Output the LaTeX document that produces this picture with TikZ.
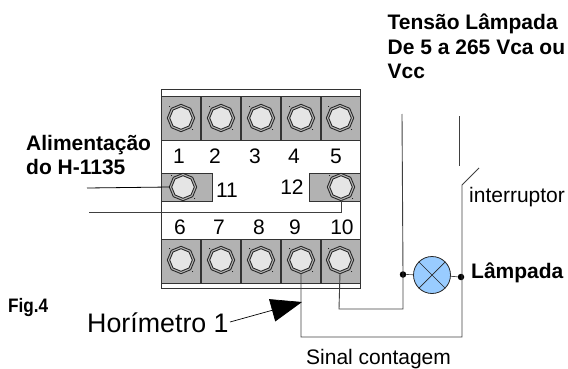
\documentclass[tikz,border=0pt]{standalone}
\usepackage{fontspec}
\setmainfont{Liberation Sans}
\usetikzlibrary{shapes.geometric,shapes.misc,arrows.meta}
\definecolor{blockgray}{HTML}{B2B2B2}
\definecolor{lampblue}{HTML}{99CCFF}
\tikzset{
	block/.style={draw=black!80,fill=blockgray,line width=.8pt},
	screw/.style={regular polygon,regular polygon sides=8,regular polygon rotate=22.5,minimum size=25pt,inner sep=0pt,draw=black!85,double=black!30,double distance=1.1pt,line width=1pt,fill=black!10},
	wire/.style={draw=black!75,line width=.9pt},
	num/.style={font=\fontsize{21}{23}\selectfont,inner sep=0pt,anchor=base},
	lbl/.style={font=\fontsize{21}{23}\selectfont,inner sep=0pt,anchor=base west},
	lblb/.style={font=\fontsize{21}{24.5}\selectfont\bfseries,inner sep=0pt,anchor=north west,align=left},
	junction/.style={circle,fill=black,inner sep=0pt,minimum size=6.5pt}
}
\begin{document}
\begin{tikzpicture}[x=1pt,y=-1pt]
	\useasboundingbox (0,0) rectangle (568,369);

	\draw [black!80,line width=.8pt] (161,89) rectangle (360,288);

	% terminal blocks
	\foreach \i/\x in {1/161,2/201,3/241,4/281,5/321}
		\draw [block] (\x,96) rectangle +(39.6,44);
	\foreach \i/\x in {6/161,7/201,8/241,9/281,10/321}
		\draw [block] (\x,239) rectangle +(39.6,44);
	\draw [block] (161,173) rectangle (212,201);
	\draw [block] (309,173) rectangle (360,201);

	\foreach \i/\x in {1/181,2/221,3/261,4/301,5/340}
		\node [screw] (s\i) at (\x,118) {};
	\foreach \i/\x in {6/181,7/221,8/261,9/301,10/340}
		\node [screw] (s\i) at (\x,260) {};
	\node [screw] (s11) at (183,187) {};
	\node [screw] (s12) at (341,187) {};

	% little marks beside the screws
	\foreach \i in {1,...,12} {
		\fill (s\i.center) ++(-11.5,-11.5) circle (.5pt);
		\fill (s\i.center) ++(11.5,11.5) circle (.5pt);
	}

	% numbers
	\foreach \i/\x in {1/179,2/215,3/255,4/294,5/336}
		\node [num] (n\i) at (\x,163) {\i};
	\foreach \i/\x in {6/180,7/219,8/259,9/295,10/342}
		\node [num] (n\i) at (\x,234) {\i};
	\node [num] (n11) at (227,197) {11};
	\node [num] (n12) at (292,194) {12};

	% wires
	\coordinate (f11) at (87,188);
	\coordinate (f12) at (89,212);
	\coordinate (k12) at (341,212);
	\coordinate (la) at (402,114);
	\coordinate (sa) at (459,116);
	\coordinate (sb) at (459,166);
	\coordinate (sc) at (479,168);
	\coordinate (sd) at (462,185);
	\coordinate (k10) at (339,309);
	\coordinate (k9) at (301,337);

	\node [circle,draw=black!85,fill=lampblue,line width=.8pt,minimum size=37pt,inner sep=0pt] (lamp) at (432,275) {};
	\draw [black!85,line width=.7pt] (lamp.45) -- (lamp.225) (lamp.135) -- (lamp.315);
	\node [junction] (ja) at (403,274.5) {};
	\node [junction] (jb) at (461,277) {};

	\draw [black,line width=.8pt] (f11) -- (s11.west);
	\draw [wire] (f12) -- (k12) -- (s12.south);
	\draw [wire] (la) -- (ja.center);
	\draw [wire] (s10.south) -- (k10) -| (ja.center);
	\draw [wire] (sa) -- (sb);
	\draw [wire] (s9.south) -- (k9) -| (sd) -- (sc);
	\draw [wire,line width=.7pt] (ja) -- (lamp) -- (jb);

	% labels
	\node [lblb] (tensao) at (387.5,14) {Tensão Lâmpada\\De 5 a 265 Vca ou\\Vcc};
	\node [lblb] (alim) at (26,135) {Alimentação\\do H-1135};
	\node [lbl] (inter) at (469,202) {interruptor};
	\node [lbl,font=\fontsize{21}{23}\selectfont\bfseries] (lampada) at (471,278) {Lâmpada};
	\node [lbl] (sinal) at (306,364) {Sinal contagem};
	\node [lbl,font=\fontsize{26.8}{28}\selectfont] (hori) at (87,332) {Horímetro 1};
	\node [lbl,font=\fontsize{19.5}{21}\selectfont\bfseries,xscale=.88] (fig) at (8,312) {Fig.4};

	\coordinate (hs) at (230,322);
	\coordinate (tip) at (302,302);
	\draw [-{Triangle[length=31pt,width=23pt]},line width=.7pt] (hs) -- (tip);
\end{tikzpicture}
\end{document}
